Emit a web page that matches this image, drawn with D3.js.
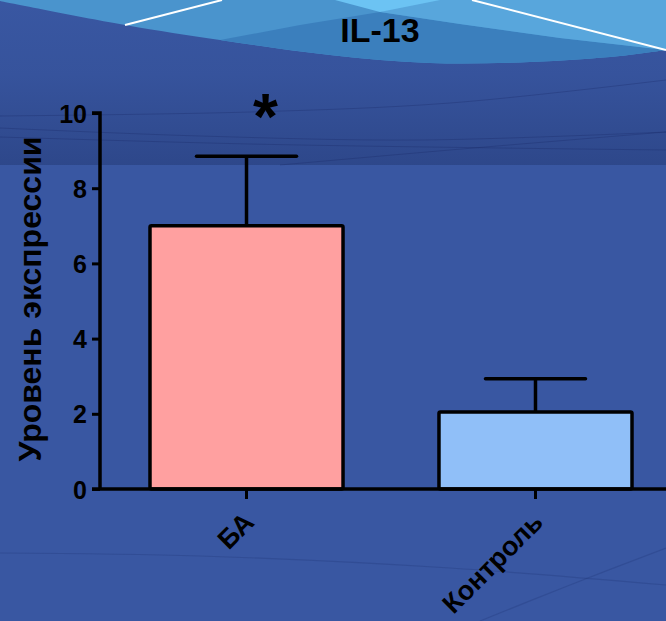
<!DOCTYPE html>
<html>
<head>
<meta charset="utf-8">
<script src="https://cdn.jsdelivr.net/npm/d3@7"></script>
<style>
  html, body { margin: 0; padding: 0; background: #3957a2; }
  svg { display: block; }
  text { font-family: "Liberation Sans", Arial, sans-serif; font-weight: bold; fill: #000; }
</style>
</head>
<body>
<svg id="chart" width="666" height="621"></svg>
<script>
// Expression data
const categories = ["БА", "Контроль"];
const means = [7.0, 2.05];
const errors = [1.85, 0.88];
const barColors = ["#ffa0a0", "#90bff8"];
const yTicks = [0, 2, 4, 6, 8, 10];
const title = "IL-13";
const yLabel = "Уровень экспрессии";
const significance = ["*", ""];

const W = 666, H = 621;
const svg = d3.select("#chart");

// ---- slide backdrop ----
const defs = svg.append("defs");
const band = defs.append("linearGradient").attr("id", "band")
  .attr("x1", 0).attr("y1", 0).attr("x2", 0).attr("y2", 1);
band.append("stop").attr("offset", "0%").attr("stop-color", "#0a1640").attr("stop-opacity", 0);
band.append("stop").attr("offset", "45%").attr("stop-color", "#0a1640").attr("stop-opacity", 0.06);
band.append("stop").attr("offset", "100%").attr("stop-color", "#0a1640").attr("stop-opacity", 0.24);

svg.append("rect").attr("width", W).attr("height", H).attr("fill", "#3957a2");
svg.append("rect").attr("x", 0).attr("y", 0).attr("width", W).attr("height", 165).attr("fill", "url(#band)");

const curve = d3.line().curve(d3.curveCatmullRom);
// faint streaks in the header band
const streaks = [
  [[0, 128], [200, 136], [420, 140], [666, 132]],
  [[0, 137], [250, 144], [500, 148], [666, 150]],
  [[0, 116], [250, 112], [450, 103], [666, 80]],
  [[280, 165], [450, 150], [666, 132]]
];
svg.append("g").selectAll("path").data(streaks).join("path")
  .attr("d", d => curve(d)).attr("fill", "none")
  .attr("stroke", "#142560").attr("stroke-opacity", 0.28).attr("stroke-width", 1);

// faint streaks lower right
const lowStreaks = [
  [[480, 621], [570, 585], [666, 548]],
  [[0, 553], [200, 556], [450, 568], [666, 585]]
];
svg.append("g").selectAll("path").data(lowStreaks).join("path")
  .attr("d", d => curve(d)).attr("fill", "none")
  .attr("stroke", "#1c2f70").attr("stroke-opacity", 0.25).attr("stroke-width", 1.2);

// wave at the top
const waveEdge = [[0, 1], [125, 25], [220, 40], [330, 55], [430, 63], [530, 62], [620, 56], [666, 50]];
const waveArea = "M0,0 " + curve(waveEdge).replace(/^M/, "L") + " L666,0 Z";
svg.append("path").attr("d", waveArea).attr("fill", "#4a94cd");

// darker inner wave
const innerWave = "M220,40 L300,25 L380,12 L460,24 L560,38 L666,50 " +
  curve([[666, 50], [620, 56], [530, 62], [430, 63], [330, 55], [220, 40]]).replace(/^M/, "L") + " Z";
svg.append("path").attr("d", innerWave).attr("fill", "#3b7fbd");

// lighter right facet
svg.append("path").attr("d", "M380,12 L420,0 L666,0 L666,50 L560,38 L460,24 Z").attr("fill", "#58a6dc");
// bright highlight
svg.append("path").attr("d", "M335,0 L440,0 L380,12 Z").attr("fill", "#6cc3f3");

// white rim lines
svg.append("path").attr("d", "M125,25 L222,0").attr("stroke", "#fff").attr("stroke-width", 2).attr("fill", "none");
svg.append("path").attr("d", "M472,0 L666,50").attr("stroke", "#fff").attr("stroke-width", 2).attr("fill", "none");

// ---- chart ----
const y = d3.scaleLinear().domain([0, 10]).range([489, 113]);
const x = d3.scaleBand().domain(categories).range([100, 682])
  .paddingInner(0.332).paddingOuter(0.173);

const g = svg.append("g");

// bars
g.selectAll("rect.bar").data(categories).join("rect")
  .attr("class", "bar")
  .attr("x", d => x(d))
  .attr("y", (d, i) => y(means[i]))
  .attr("width", x.bandwidth())
  .attr("height", (d, i) => y(0) - y(means[i]))
  .attr("fill", (d, i) => barColors[i])
  .attr("stroke", "#000").attr("stroke-width", 3.5)
  .attr("rx", 1.5);

// error bars (upper only)
const capHalf = 50;
categories.forEach((c, i) => {
  const cx = x(c) + x.bandwidth() / 2;
  g.append("line").attr("x1", cx).attr("x2", cx)
    .attr("y1", y(means[i])).attr("y2", y(means[i] + errors[i]))
    .attr("stroke", "#000").attr("stroke-width", 3.5);
  g.append("line").attr("x1", cx - capHalf).attr("x2", cx + capHalf)
    .attr("y1", y(means[i] + errors[i])).attr("y2", y(means[i] + errors[i]))
    .attr("stroke", "#000").attr("stroke-width", 3.5).attr("stroke-linecap", "round");
  if (significance[i]) {
    g.append("text").attr("x", cx + 19).attr("y", y(means[i] + errors[i]) - 17)
      .attr("text-anchor", "middle").attr("font-size", 64).text(significance[i]);
  }
});

// y axis
const yAxis = d3.axisLeft(y).tickValues(yTicks).tickSize(8).tickPadding(5).tickFormat(d3.format("d"));
const ya = g.append("g").attr("transform", "translate(100,0)").call(yAxis);
ya.select(".domain").attr("stroke", "#000").attr("stroke-width", 3.5)
  .attr("d", `M-8,${y(10)}H0V${y(0)}`);
ya.selectAll(".tick line").attr("stroke", "#000").attr("stroke-width", 3);
ya.selectAll(".tick text").attr("font-size", 25).attr("font-family", "Liberation Sans, Arial, sans-serif")
  .attr("font-weight", "bold").attr("fill", "#000").attr("dy", "0.36em");

// x axis
const xAxis = d3.axisBottom(x).tickSize(10).tickFormat("");
const xa = g.append("g").attr("transform", `translate(0,${y(0)})`).call(xAxis);
xa.select(".domain").attr("stroke", "#000").attr("stroke-width", 3.5).attr("d", `M92,0H${W}`);
xa.selectAll(".tick line").attr("stroke", "#000").attr("stroke-width", 3);

// rotated category labels
g.selectAll("text.xl").data(categories).join("text")
  .attr("class", "xl")
  .attr("text-anchor", "end")
  .attr("font-size", 27)
  .attr("transform", d => `translate(${x(d) + x.bandwidth() / 2 + 9},${y(0) + 35}) rotate(-45)`)
  .text(d => d);

// y title
svg.append("text").attr("text-anchor", "middle").attr("font-size", 32)
  .attr("transform", "translate(41,299) rotate(-90)").text(yLabel);

// chart title
svg.append("text").attr("x", 380).attr("y", 42).attr("text-anchor", "middle")
  .attr("font-size", 34).text(title);
</script>
</body>
</html>
